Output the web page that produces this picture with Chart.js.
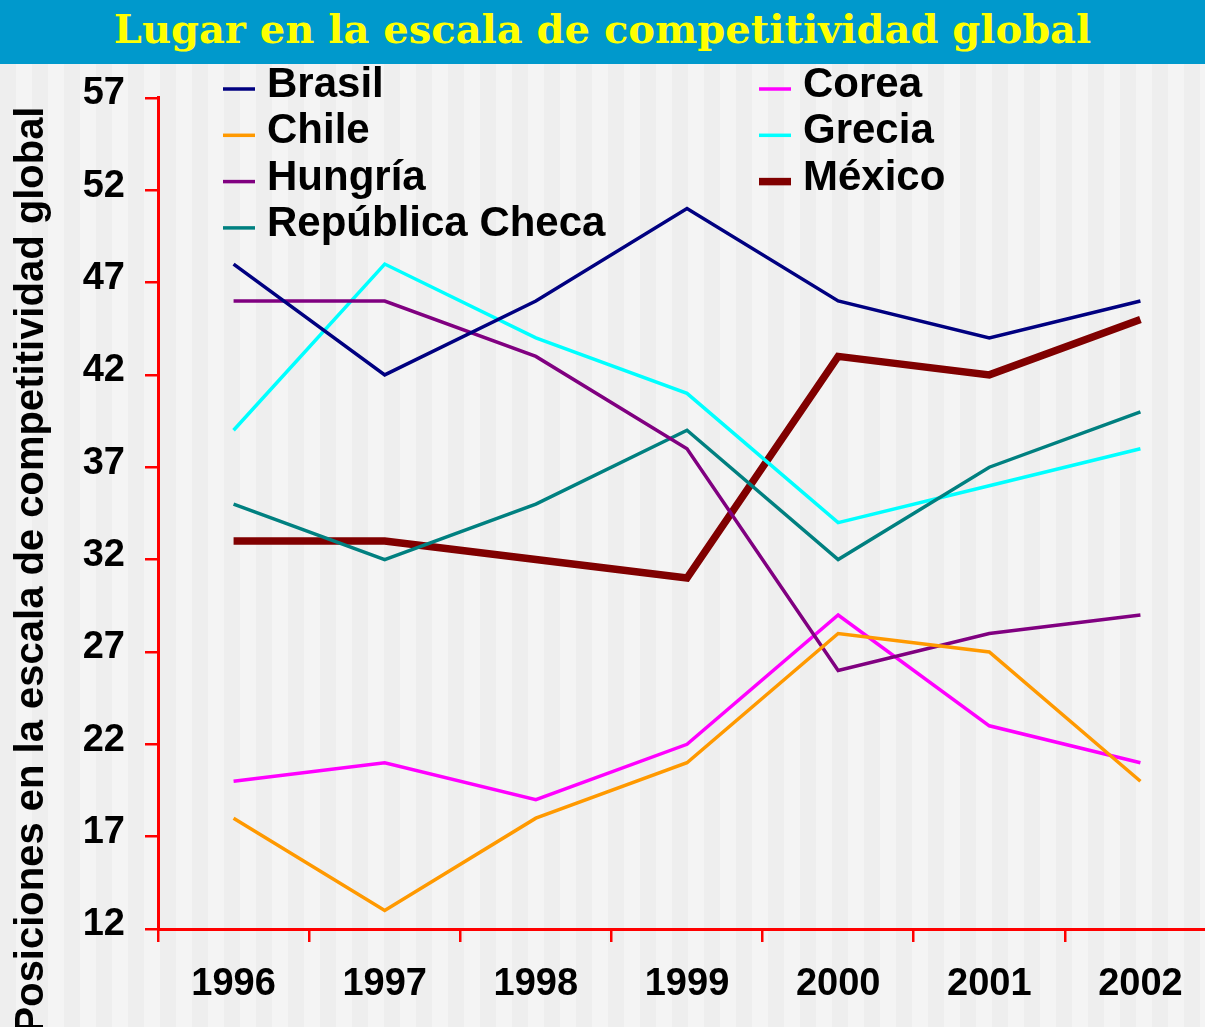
<!DOCTYPE html>
<html>
<head>
<meta charset="utf-8">
<script src="https://cdn.jsdelivr.net/npm/chart.js@4.4.0/dist/chart.umd.min.js"></script>
<style>
  html, body { margin: 0; padding: 0; width: 1205px; height: 1027px; overflow: hidden; }
  body { background: repeating-linear-gradient(90deg, #eeeeee 0, #eeeeee 16px, #f4f4f4 16px, #f4f4f4 32px); }
  #title {
    height: 64px; background: #0099cc; color: #ffff00;
    font: bold 40px "DejaVu Serif"; text-align: center; line-height: 58px;
  }
  #wrap { position: relative; width: 1216px; height: 972px; margin-top: -9px; }
</style>
</head>
<body>
<div id="title">Lugar en la escala de competitividad global</div>
<div id="wrap"><canvas id="rankChart" width="1216" height="972"></canvas></div>
<script>
// Global competitiveness ranking, 1996-2002

const years = ['1996', '1997', '1998', '1999', '2000', '2001', '2002'];

const brasil = [48, 42, 46, 51, 46, 44, 46];
const chile = [18, 13, 18, 21, 28, 27, 20];
const hungria = [46, 46, 43, 38, 26, 28, 29];
const checa = [35, 32, 35, 39, 32, 37, 40];
const corea = [20, 21, 19, 22, 29, 23, 21];
const grecia = [39, 48, 44, 41, 34, 36, 38];
const mexico = [33, 33, 32, 31, 43, 42, 45];

const yTicks = [12, 17, 22, 27, 32, 37, 42, 47, 52, 57];

const axisTitle = 'Posiciones en la escala de competitividad global';

function series(label, data, color, width) {
  return {
    label: label,
    data: data,
    borderColor: color,
    backgroundColor: color,
    borderWidth: width,
    pointRadius: 0,
    fill: false,
    tension: 0
  };
}

// canvas is pulled 9px up under the title bar
const top0 = 9;

// legend in two columns, drawn over the plot like the original
const legendPlugin = {
  id: 'twoColLegend',
  afterDraw(chart) {
    const ctx = chart.ctx;
    ctx.save();
    ctx.font = 'bold 42px "Liberation Sans", Arial, sans-serif';
    ctx.fillStyle = '#000';
    ctx.textBaseline = 'alphabetic';
    chart.data.datasets.forEach((ds, i) => {
      const col = i < 4 ? 0 : 1;
      const row = i < 4 ? i : i - 4;
      const lineX = col === 0 ? 223 : 759;
      const textX = col === 0 ? 267 : 803;
      const y = top0 + 25 + row * 46.3;
      ctx.strokeStyle = ds.borderColor;
      ctx.lineWidth = ds.borderWidth;
      ctx.beginPath();
      ctx.moveTo(lineX, y);
      ctx.lineTo(lineX + 32, y);
      ctx.stroke();
      ctx.fillText(ds.label, textX, y + 8);
    });
    ctx.restore();
  }
};

// rotated y axis title, placed lower than the axis centre as in the original
const yTitlePlugin = {
  id: 'yTitle',
  afterDraw(chart) {
    const ctx = chart.ctx;
    ctx.save();
    ctx.translate(43, top0 + 506);
    ctx.rotate(-Math.PI / 2);
    ctx.font = 'bold 40px "Liberation Sans", Arial, sans-serif';
    ctx.fillStyle = '#000';
    ctx.textAlign = 'center';
    ctx.textBaseline = 'alphabetic';
    ctx.fillText(axisTitle, 0, 0);
    ctx.restore();
  }
};

const tickFont = { family: '"Liberation Sans", Arial, sans-serif', size: 38, weight: 'bold' };

const ctx = document.getElementById('rankChart').getContext('2d');

new Chart(ctx, {
  type: 'line',
  data: {
    labels: years,
    datasets: [
      series('Brasil', brasil, '#000080', 3.5),
      series('Chile', chile, '#ff9900', 3.5),
      series('Hungría', hungria, '#800080', 3.5),
      series('República Checa', checa, '#008080', 3.5),
      series('Corea', corea, '#ff00ff', 3.5),
      series('Grecia', grecia, '#00ffff', 3.5),
      series('México', mexico, '#800000', 7.5)
    ]
  },
  options: {
    responsive: false,
    animation: false,
    layout: { padding: { top: 25, left: 0, right: 0, bottom: 0 } },
    plugins: {
      legend: { display: false },
      tooltip: { enabled: false }
    },
    scales: {
      x: {
        offset: true,
        grid: { offset: true, drawOnChartArea: false, color: '#ff0000', lineWidth: 2.5, tickLength: 13 },
        border: { color: '#ff0000', width: 3 },
        ticks: { font: tickFont, color: '#000', padding: 20, maxRotation: 0 },
        afterFit(scale) { scale.height = 98; }
      },
      y: {
        min: 12,
        max: 57,
        afterBuildTicks(scale) { scale.ticks = yTicks.map((v) => ({ value: v })); },
        grid: { drawOnChartArea: false, color: '#ff0000', lineWidth: 2.5, tickLength: 13 },
        border: { color: '#ff0000', width: 3 },
        ticks: { font: tickFont, color: '#000', padding: 20, labelOffset: -4 },
        afterFit(scale) { scale.width = 158; }
      }
    }
  },
  plugins: [legendPlugin, yTitlePlugin]
});
</script>
</body>
</html>
